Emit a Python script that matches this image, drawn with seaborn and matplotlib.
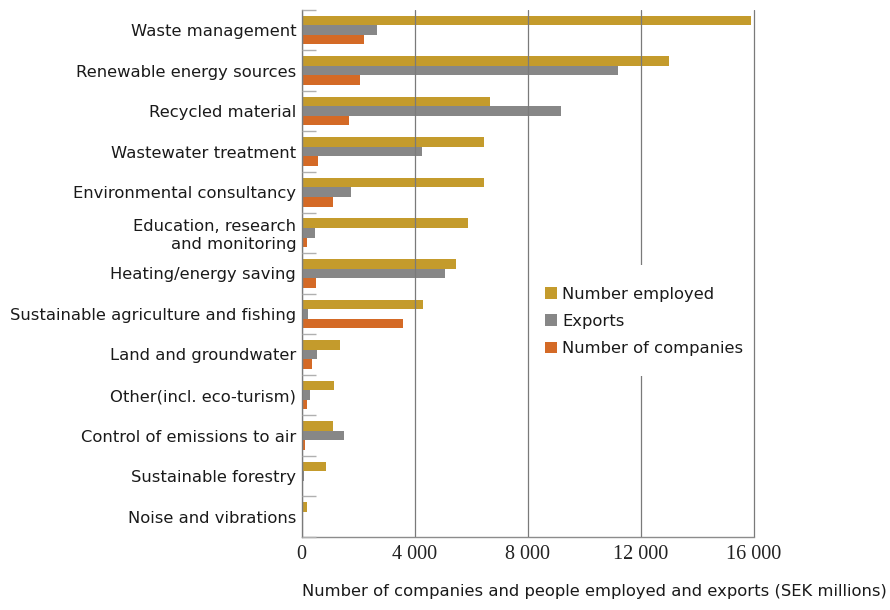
import matplotlib
matplotlib.use("Agg")
import matplotlib.pyplot as plt
import pandas as pd
import seaborn as sns
from matplotlib.patches import Rectangle
from matplotlib.ticker import FixedLocator

# Environmental goods and services sector, by activity
categories = [
    "Waste management",
    "Renewable energy sources",
    "Recycled material",
    "Wastewater treatment",
    "Environmental consultancy",
    "Education, research\nand monitoring",
    "Heating/energy saving",
    "Sustainable agriculture and fishing",
    "Land and groundwater",
    "Other(incl. eco-turism)",
    "Control of emissions to air",
    "Sustainable forestry",
    "Noise and vibrations",
]
employed = [15900, 13000, 6680, 6450, 6450, 5890, 5460, 4290, 1350, 1150, 1100, 850, 190]
exports = [2650, 11200, 9170, 4260, 1750, 470, 5060, 240, 540, 310, 1490, 80, 20]
companies = [2210, 2050, 1660, 590, 1100, 200, 490, 3570, 380, 200, 120, 30, 10]

series_names = ["Number employed", "Exports", "Number of companies"]
x_ticks = [0, 4000, 8000, 12000, 16000]
x_tick_labels = ["0", "4 000", "8 000", "12 000", "16 000"]
x_title = "Number of companies and people employed and exports (SEK millions)"

colors = ["#C49B2C", "#878787", "#D46A26"]

df = pd.DataFrame({
    "category": categories * 3,
    "value": employed + exports + companies,
    "series": [series_names[0]] * len(categories)
    + [series_names[1]] * len(categories)
    + [series_names[2]] * len(categories),
})

sns.set_theme(style="white")
plt.rcParams["font.family"] = ["DejaVu Sans"]

fig = plt.figure(figsize=(8.9, 6.1), dpi=100)
# x range runs a little past 16 000 so the last gridline is not clipped
ax = fig.add_axes([0.3390, 0.1197, 0.5110, 0.8644])

sns.barplot(
    data=df, y="category", x="value", hue="series", order=categories,
    hue_order=series_names, palette=colors, orient="h", width=0.71,
    saturation=1, linewidth=0, ax=ax, legend=True,
)

ax.set_xlim(0, 16100)
ax.set_ylim(len(categories) - 0.5, -0.5)

# vertical gridlines drawn over the bars
ax.set_axisbelow(False)
ax.xaxis.grid(True, color="#7a7a7a", linewidth=0.9)
ax.yaxis.grid(False)

ax.set_xticks(x_ticks)
ax.set_xticklabels(x_tick_labels, family="Liberation Serif", fontsize=14.5, color="#222222")
ax.tick_params(axis="x", length=0, pad=6)

ax.set_yticks(range(len(categories)))
ax.set_yticklabels(categories, fontsize=11.8, color="#1a1a1a")
ax.tick_params(axis="y", which="major", length=0, pad=4)
ax.yaxis.set_minor_locator(FixedLocator([i - 0.5 for i in range(len(categories) + 1)]))
ax.tick_params(axis="y", which="minor", left=True, direction="in", length=10,
               color="#b0b0b0", width=1)

ax.set_ylabel("")
ax.set_xlabel(x_title, loc="left", fontsize=11.8, color="#1a1a1a", labelpad=14)

for side in ("top", "right"):
    ax.spines[side].set_visible(False)
for side in ("left", "bottom"):
    ax.spines[side].set_color("#8c8c8c")
    ax.spines[side].set_linewidth(1)
ax.spines["bottom"].set_bounds(0, 16000)

# white panel behind the legend (hides the gridline it sits on)
ax.add_patch(Rectangle((0.513, 0.305), 0.462, 0.211, transform=ax.transAxes,
                       facecolor="white", edgecolor="none", zorder=4))

leg = ax.legend(
    loc="upper left", bbox_to_anchor=(0.499, 0.506), borderaxespad=0,
    frameon=False, handlelength=0.7, handleheight=0.7, handletextpad=0.33,
    labelspacing=0.75, fontsize=11.8, borderpad=1.0,
)
leg.set_zorder(5)
for t in leg.get_texts():
    t.set_color("#1a1a1a")

fig.savefig("out.png", dpi=100, facecolor="white")
